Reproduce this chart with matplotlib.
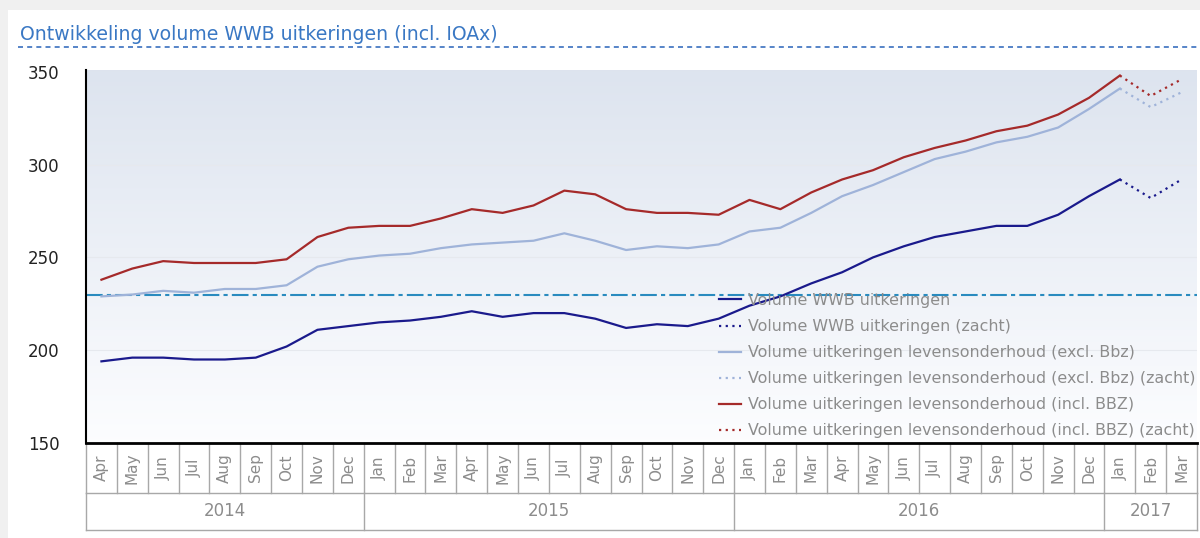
import numpy as np
import matplotlib
matplotlib.use("Agg")
import matplotlib.pyplot as plt
from matplotlib.patches import Rectangle
from matplotlib.lines import Line2D
import matplotlib.transforms as mtransforms

plt.rcParams['font.family'] = ['DejaVu Sans']

# months Apr 2014 .. Mar 2017
months = ["Apr", "May", "Jun", "Jul", "Aug", "Sep", "Oct", "Nov", "Dec",
          "Jan", "Feb", "Mar", "Apr", "May", "Jun", "Jul", "Aug", "Sep", "Oct", "Nov", "Dec",
          "Jan", "Feb", "Mar", "Apr", "May", "Jun", "Jul", "Aug", "Sep", "Oct", "Nov", "Dec",
          "Jan", "Feb", "Mar"]
years = ["2014", "2015", "2016", "2017"]
year_months = [9, 12, 12, 3]

# solid series: Apr 2014 .. Jan 2017
wwb = [194, 196, 196, 195, 195, 196, 202, 211, 213,
       215, 216, 218, 221, 218, 220, 220, 217, 212, 214, 213, 217,
       224, 229, 236, 242, 250, 256, 261, 264, 267, 267, 273, 283,
       292]
excl_bbz = [229, 230, 232, 231, 233, 233, 235, 245, 249,
            251, 252, 255, 257, 258, 259, 263, 259, 254, 256, 255, 257,
            264, 266, 274, 283, 289, 296, 303, 307, 312, 315, 320, 330,
            341]
incl_bbz = [238, 244, 248, 247, 247, 247, 249, 261, 266,
            267, 267, 271, 276, 274, 278, 286, 284, 276, 274, 274, 273,
            281, 276, 285, 292, 297, 304, 309, 313, 318, 321, 327, 336,
            348]
# "zacht" continuation: Jan 2017 .. Mar 2017
wwb_zacht = [292, 282, 292]
excl_zacht = [341, 331, 339]
incl_zacht = [348, 337, 346]
ref_level = 230

navy = "#1a1a8c"
lightblue = "#9fb3d9"
darkred = "#a52a2a"

fig = plt.figure(figsize=(12, 5.38), dpi=100, facecolor="#f0f0f0")
W, H = 1200, 538
fig.patches.append(Rectangle((8 / W, 0), 1, 1 - 10 / H, transform=fig.transFigure,
                             facecolor="white", edgecolor="none", zorder=-10))

fig.text(20 / W, 1 - 35 / H, "Ontwikkeling volume WWB uitkeringen (incl. IOAx)",
         color="#3a78c4", fontsize=13.6, va="center", ha="left")
fig.lines.append(Line2D([18 / W, 1.0], [1 - 47 / H, 1 - 47 / H], transform=fig.transFigure,
                        color="#3a6fbf", lw=1.2, ls=(0, (3, 2.5))))

ax = fig.add_axes([86 / W, 1 - 443 / H, 1111 / W, 373 / H])
n = len(months)
x_solid = np.arange(len(wwb))
x_zacht = np.arange(len(wwb) - 1, len(wwb) - 1 + len(wwb_zacht))

ax.set_xlim(-0.5, n - 0.5)
ax.set_ylim(150, 351)

# gradient background
grad = np.linspace(0, 1, 256).reshape(-1, 1)
top = np.array([0.867, 0.894, 0.937])
bot = np.array([0.99, 0.993, 1.0])
img = bot + (top - bot) * grad
ax.imshow(img[:, None, :].repeat(2, axis=1), extent=[-0.5, n - 0.5, 150, 351],
          origin="lower", aspect="auto", zorder=0)

for v in [200, 250, 300]:
    ax.axhline(v, color="#e6e9ee", lw=0.8, zorder=1)

ax.axhline(ref_level, color="#2a8bbf", lw=1.5, ls=(0, (8, 2, 2, 2)), zorder=2)

ax.plot(x_solid, wwb, color=navy, lw=1.6, zorder=3, label="Volume WWB uitkeringen")
ax.plot(x_zacht, wwb_zacht, color=navy, lw=1.6, ls=(0, (1, 2)), zorder=3,
        label="Volume WWB uitkeringen (zacht)")
ax.plot(x_solid, excl_bbz, color=lightblue, lw=1.6, zorder=3,
        label="Volume uitkeringen levensonderhoud (excl. Bbz)")
ax.plot(x_zacht, excl_zacht, color=lightblue, lw=1.6, ls=(0, (1, 2)), zorder=3,
        label="Volume uitkeringen levensonderhoud (excl. Bbz) (zacht)")
ax.plot(x_solid, incl_bbz, color=darkred, lw=1.6, zorder=3,
        label="Volume uitkeringen levensonderhoud (incl. BBZ)")
ax.plot(x_zacht, incl_zacht, color=darkred, lw=1.6, ls=(0, (1, 2)), zorder=3,
        label="Volume uitkeringen levensonderhoud (incl. BBZ) (zacht)")

leg = ax.legend(loc="upper left", bbox_to_anchor=(719 / W, 1 - 293 / H),
                bbox_transform=fig.transFigure, frameon=False, fontsize=11.4,
                handlelength=1.4, handletextpad=0.4, labelspacing=0.7,
                borderpad=0, borderaxespad=0)
for t in leg.get_texts():
    t.set_color("#8c8c8c")

ax.set_yticks([150, 200, 250, 300, 350])
ax.tick_params(axis="y", length=0, pad=19, labelsize=12, labelcolor="#222222")
ax.set_xticks([])
for s in ["top", "right"]:
    ax.spines[s].set_visible(False)
ax.spines["left"].set_linewidth(1.5)
ax.spines["bottom"].set_linewidth(2)

# month / year table under the axis
trans = mtransforms.blended_transform_factory(ax.transData, fig.transFigure)
row1_top, row1_bot, row2_bot = 1 - 443 / H, 1 - 493 / H, 1 - 530 / H
cell = "#a8a8a8"
for i in range(n + 1):
    ax.plot([i - 0.5, i - 0.5], [row1_top, row1_bot], transform=trans, color=cell,
            lw=1, clip_on=False)
for i, m in enumerate(months):
    ax.text(i, (row1_top + row1_bot) / 2, m, transform=trans, rotation=90,
            ha="center", va="center", color="#8c8c8c", fontsize=11)
ax.plot([-0.5, n - 0.5], [row1_bot, row1_bot], transform=trans, color=cell, lw=1, clip_on=False)
ax.plot([-0.5, n - 0.5], [row2_bot, row2_bot], transform=trans, color=cell, lw=1, clip_on=False)
start = 0
for y, k in zip(years, year_months):
    ax.plot([start - 0.5, start - 0.5], [row1_bot, row2_bot], transform=trans, color=cell,
            lw=1, clip_on=False)
    ax.text(start + k / 2 - 0.5, (row1_bot + row2_bot) / 2, y, transform=trans,
            ha="center", va="center", color="#8c8c8c", fontsize=12)
    start += k
ax.plot([n - 0.5, n - 0.5], [row1_bot, row2_bot], transform=trans, color=cell,
        lw=1, clip_on=False)

fig.savefig("out.png", dpi=100, facecolor=fig.get_facecolor())
